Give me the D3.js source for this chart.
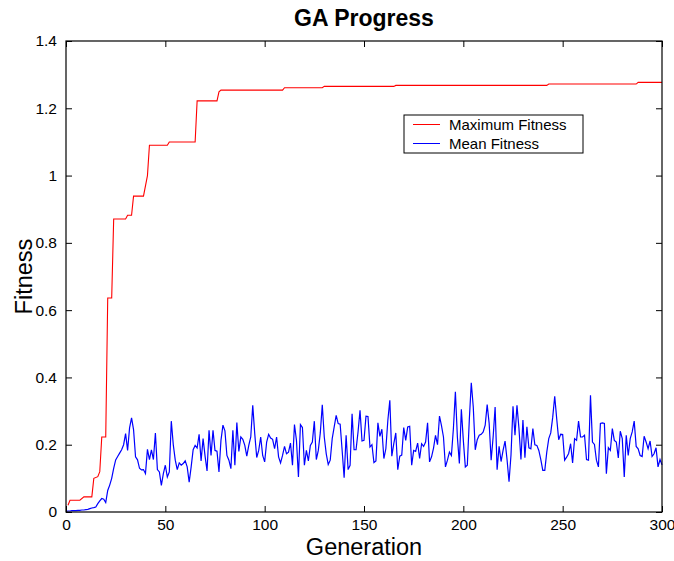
<!DOCTYPE html>
<head>
<meta charset="utf-8">
<title>GA Progress</title>
<script type="text/javascript" src="https://d3js.org/d3.v7.min.js"></script>
<style>
body { margin: 0; background: #fff; }
text { font-family: "Liberation Sans", Arial, sans-serif; }
</style>
</head>
<body>
<div id="chart"></div>
<script>
// step points of the maximum fitness curve (generation, value)
var maxGen = [1, 2, 7, 9, 13, 14, 16, 17, 18, 20, 21, 23, 24, 30, 31, 33, 34, 39, 41, 42,
              51, 52, 65, 66, 76, 77, 78, 109, 110, 129, 130, 165, 166, 242, 243, 287, 288, 300];
var maxFit = [0.02, 0.035, 0.035, 0.045, 0.045, 0.10, 0.105, 0.12, 0.223, 0.223, 0.636, 0.636, 0.871, 0.871, 0.882, 0.882, 0.939, 0.939, 1.0, 1.09,
              1.09, 1.10, 1.10, 1.222, 1.222, 1.249, 1.254, 1.254, 1.261, 1.261, 1.265, 1.265, 1.268, 1.268, 1.272, 1.272, 1.277, 1.277];

// mean fitness, one value per generation 0..300
var meanFit = [
  0.002, 0.003, 0.003, 0.004, 0.004, 0.004, 0.005, 0.005, 0.006, 0.006,
  0.007, 0.008, 0.010, 0.012, 0.013, 0.015, 0.025, 0.033, 0.040, 0.038,
  0.028, 0.064, 0.080, 0.100, 0.130, 0.155, 0.165, 0.175, 0.185, 0.200,
  0.233, 0.183, 0.250, 0.280, 0.245, 0.164, 0.155, 0.130, 0.125, 0.126,
  0.114, 0.186, 0.156, 0.185, 0.156, 0.235, 0.126, 0.119, 0.079, 0.114,
  0.139, 0.104, 0.119, 0.270, 0.200, 0.154, 0.126, 0.146, 0.139, 0.144,
  0.152, 0.134, 0.089, 0.134, 0.185, 0.198, 0.190, 0.231, 0.152, 0.218,
  0.166, 0.122, 0.243, 0.168, 0.243, 0.183, 0.181, 0.119, 0.213, 0.258,
  0.241, 0.168, 0.154, 0.129, 0.243, 0.139, 0.266, 0.180, 0.223, 0.216,
  0.198, 0.166, 0.198, 0.223, 0.317, 0.233, 0.162, 0.183, 0.223, 0.168,
  0.149, 0.208, 0.231, 0.220, 0.216, 0.188, 0.223, 0.164, 0.146, 0.168,
  0.195, 0.173, 0.178, 0.205, 0.139, 0.260, 0.213, 0.104, 0.260, 0.251,
  0.139, 0.183, 0.152, 0.198, 0.208, 0.270, 0.156, 0.183, 0.235, 0.319,
  0.223, 0.173, 0.141, 0.154, 0.218, 0.253, 0.287, 0.263, 0.261, 0.183,
  0.102, 0.228, 0.126, 0.139, 0.292, 0.185, 0.185, 0.238, 0.302, 0.211,
  0.213, 0.285, 0.284, 0.193, 0.200, 0.147, 0.152, 0.265, 0.225, 0.246,
  0.159, 0.188, 0.272, 0.332, 0.166, 0.203, 0.235, 0.126, 0.166, 0.169,
  0.251, 0.213, 0.253, 0.255, 0.139, 0.183, 0.180, 0.205, 0.159, 0.203,
  0.195, 0.208, 0.265, 0.149, 0.164, 0.190, 0.228, 0.200, 0.285, 0.257,
  0.223, 0.134, 0.154, 0.178, 0.168, 0.248, 0.357, 0.223, 0.144, 0.305,
  0.213, 0.134, 0.139, 0.273, 0.384, 0.312, 0.185, 0.215, 0.228, 0.231,
  0.238, 0.258, 0.319, 0.263, 0.154, 0.223, 0.312, 0.126, 0.195, 0.150,
  0.183, 0.211, 0.156, 0.090, 0.170, 0.314, 0.228, 0.317, 0.248, 0.156,
  0.273, 0.161, 0.253, 0.191, 0.188, 0.248, 0.200, 0.198, 0.183, 0.156,
  0.124, 0.124, 0.178, 0.218, 0.235, 0.282, 0.344, 0.277, 0.215, 0.231,
  0.230, 0.154, 0.163, 0.174, 0.203, 0.146, 0.218, 0.213, 0.270, 0.223,
  0.223, 0.228, 0.156, 0.154, 0.347, 0.208, 0.201, 0.154, 0.134, 0.263,
  0.265, 0.263, 0.114, 0.191, 0.183, 0.248, 0.213, 0.208, 0.161, 0.240,
  0.218, 0.104, 0.228, 0.168, 0.218, 0.238, 0.270, 0.195, 0.188, 0.168,
  0.165, 0.225, 0.208, 0.188, 0.211, 0.165, 0.173, 0.191, 0.134, 0.156,
  0.140
];

var xTicks = [0, 50, 100, 150, 200, 250, 300];
var yTicks = [0, 0.2, 0.4, 0.6, 0.8, 1, 1.2, 1.4];
var legendLabels = ["Maximum Fitness", "Mean Fitness"];
var lineColors = ["#ff0000", "#0000ff"];

// plot box
var margin = {top: 41, right: 12, bottom: 49, left: 66};
var W = 674, H = 561;
var width = W - margin.left - margin.right;
var height = H - margin.top - margin.bottom;

var svg = d3.select("#chart").append("svg")
    .attr("width", W)
    .attr("height", H);

var g = svg.append("g")
    .attr("transform", "translate(" + margin.left + "," + margin.top + ")");

var xScale = d3.scaleLinear().domain([0, 300]).range([0, width]);
var yScale = d3.scaleLinear().domain([0, 1.4]).range([height, 0]);

// lines
var maxData = maxGen.map(function(d, i) { return [d, maxFit[i]]; });
var meanData = meanFit.map(function(d, i) { return [i, d]; });

var line = d3.line()
    .x(function(d) { return xScale(d[0]); })
    .y(function(d) { return yScale(d[1]); });

g.append("path")
    .datum(maxData)
    .attr("fill", "none")
    .attr("stroke", lineColors[0])
    .attr("stroke-width", 1.1)
    .attr("d", line);

g.append("path")
    .datum(meanData)
    .attr("fill", "none")
    .attr("stroke", lineColors[1])
    .attr("stroke-width", 1.2)
    .attr("d", line);

// axes, ticks pointing inward, MATLAB style box
var tickFont = 15.5;
var xAxis = d3.axisBottom(xScale).tickValues(xTicks).tickSizeInner(-6).tickSizeOuter(0).tickPadding(7)
    .tickFormat(d3.format("d"));
var yAxis = d3.axisLeft(yScale).tickValues(yTicks).tickSizeInner(-6).tickSizeOuter(0).tickPadding(9)
    .tickFormat(function(d) { return d3.format("~g")(d); });

g.append("g")
    .attr("transform", "translate(0," + height + ")")
    .call(xAxis)
    .call(function(s) { s.selectAll("text").style("font-size", tickFont + "px").attr("fill", "#000"); });

g.append("g")
    .call(yAxis)
    .call(function(s) { s.selectAll("text").style("font-size", tickFont + "px").attr("fill", "#000"); });

g.append("g")
    .call(d3.axisTop(xScale).tickValues(xTicks).tickSizeInner(-6).tickSizeOuter(0).tickFormat(""));

g.append("g")
    .attr("transform", "translate(" + width + ",0)")
    .call(d3.axisRight(yScale).tickValues(yTicks).tickSizeInner(-6).tickSizeOuter(0).tickFormat(""));

g.selectAll(".domain").remove();
g.append("rect")
    .attr("width", width)
    .attr("height", height)
    .attr("fill", "none")
    .attr("stroke", "#000")
    .attr("stroke-width", 1.2);

// title and axis labels
svg.append("text")
    .attr("x", margin.left + width / 2)
    .attr("y", 26)
    .attr("text-anchor", "middle")
    .style("font-size", "23px")
    .style("font-weight", "bold")
    .text("GA Progress");

svg.append("text")
    .attr("x", margin.left + width / 2)
    .attr("y", 555)
    .attr("text-anchor", "middle")
    .style("font-size", "23.5px")
    .text("Generation");

svg.append("text")
    .attr("transform", "translate(32," + (margin.top + height / 2) + ") rotate(-90)")
    .attr("text-anchor", "middle")
    .style("font-size", "23.5px")
    .text("Fitness");

// legend
var legend = svg.append("g").attr("transform", "translate(404,115)");
legend.append("rect")
    .attr("width", 179)
    .attr("height", 38)
    .attr("fill", "#fff")
    .attr("stroke", "#000")
    .attr("stroke-width", 1);

legendLabels.forEach(function(label, i) {
  legend.append("line")
    .attr("x1", 9).attr("x2", 36)
    .attr("y1", 9.5 + i * 19).attr("y2", 9.5 + i * 19)
    .attr("stroke", lineColors[i])
    .attr("stroke-width", 1);
  legend.append("text")
    .attr("x", 45)
    .attr("y", 14.5 + i * 19)
    .style("font-size", "15px")
    .text(label);
});
</script>
</body>
